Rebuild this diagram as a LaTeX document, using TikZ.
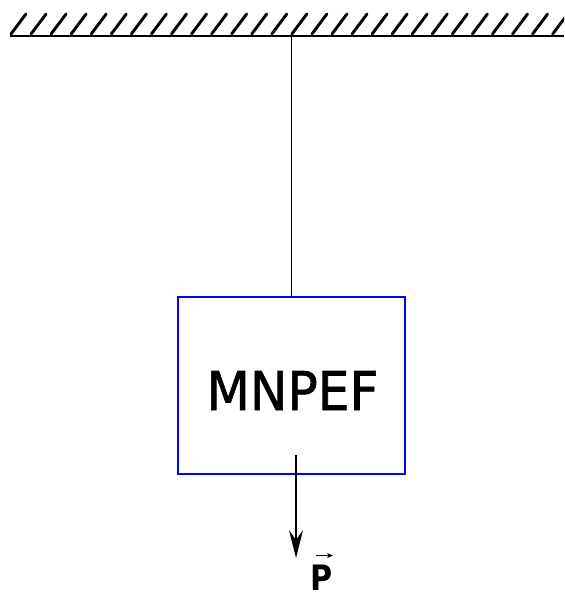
\documentclass[tikz,border=0pt]{standalone}
\usepackage{fontspec}
\setmainfont{DejaVu Sans}
\newfontfamily\lblfont{DejaVu Sans}[FakeBold=1.2]
\usetikzlibrary{arrows.meta}
\tikzset{
  hatch/.style={line width=2.9pt, line cap=round},
  ceiling/.style={line width=2.3pt},
  rope/.style={line width=1.8pt},
  body/.style={draw={rgb,255:red,0;green,0;blue,255}, line width=1.9pt, minimum width=227pt, minimum height=177pt, inner sep=0pt},
  force/.style={line width=2pt, -{Stealth[length=28pt,width=14pt,inset=10pt]}},
  vecarrow/.style={line width=1.2pt, -{Stealth[length=6pt,width=5pt]}}
}
\begin{document}
\begin{tikzpicture}[x=1pt,y=-1pt]
\useasboundingbox (0,0) rectangle (564,596);
\begin{scope}
\clip (0,0) rectangle (564,596);
\foreach \k in {0,...,27} {
  \draw[hatch] ({11+20.06*\k},34) -- ({26+20.06*\k},14);
}
\end{scope}
\coordinate (cl) at (10,36);
\coordinate (cr) at (564,36);
\draw[ceiling] (cl) -- (cr);
\coordinate (hook) at (291.5,36);
\node[body] (box) at (291.5,385.5) {};
\node[inner sep=0pt, font=\lblfont\fontsize{53.5}{60}\selectfont, xscale=0.94, transform shape] (lbl) at (292.5,390.5) {MNPEF};
\draw[rope] (hook) -- (box.north);
\coordinate (fs) at (296,455);
\coordinate (fe) at (296,558);
\draw[force] (fs) -- (fe);
\node[inner sep=0pt, font=\bfseries\fontsize{35}{40}\selectfont, xscale=0.86, transform shape] (P) at (321.5,577.5) {P};
\coordinate (va) at (316,555.5);
\coordinate (vb) at (333,555.5);
\draw[vecarrow] (va) -- (vb);
\end{tikzpicture}
\end{document}
